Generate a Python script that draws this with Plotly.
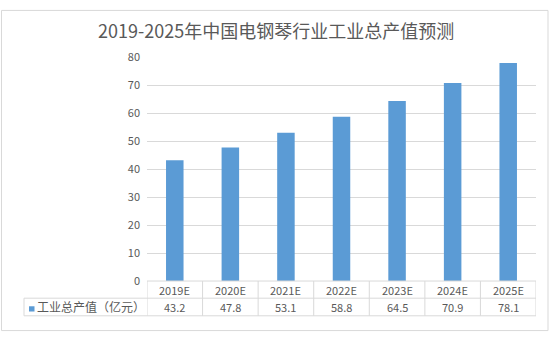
import plotly.graph_objects as go

# Forecast of gross industrial output value for the electric piano industry
years = ["2019E", "2020E", "2021E", "2022E", "2023E", "2024E", "2025E"]
output_value = [43.2, 47.8, 53.1, 58.8, 64.5, 70.9, 78.1]
series_name = "工业总产值（亿元）"
title_text = "2019-2025年中国电钢琴行业工业总产值预测"

W, H = 552, 339
BAR_COLOR = "#5B9BD5"
GRID = "#D9D9D9"
TEXT = "#595959"
FONT = "Noto Sans CJK SC, Microsoft YaHei, sans-serif"

# plot area in pixels
x0_px, x1_px = 147, 536
y_zero_px, y_top_px = 285.5, 51
row1_px, row2_px = 303.5, 322
legend_left_px = 24


def px_x(p):
    return p / W


def px_y(p):
    return 1 - p / H


fig = go.Figure()
fig.add_trace(go.Bar(
    x=years, y=output_value, marker=dict(color=BAR_COLOR, line=dict(width=0)),
    showlegend=False, hoverinfo="x+y",
))

shapes = []
annotations = []
n = len(years)
grid_line = dict(color=GRID, width=1)

# table grid: horizontal rules
shapes.append(dict(type="line", xref="paper", yref="paper",
                   x0=px_x(x0_px), x1=px_x(x1_px), y0=px_y(y_zero_px), y1=px_y(y_zero_px), line=grid_line))
for yy in (row1_px, row2_px):
    shapes.append(dict(type="line", xref="paper", yref="paper",
                       x0=px_x(legend_left_px), x1=px_x(x1_px), y0=px_y(yy), y1=px_y(yy), line=grid_line))
# table grid: column separators
for i in range(n + 1):
    shapes.append(dict(type="line", xref="x", yref="paper",
                       x0=i - 0.5, x1=i - 0.5, y0=px_y(y_zero_px), y1=px_y(row2_px), line=grid_line))
shapes.append(dict(type="line", xref="paper", yref="paper",
                   x0=px_x(legend_left_px), x1=px_x(legend_left_px), y0=px_y(row1_px), y1=px_y(row2_px), line=grid_line))
# legend key square
shapes.append(dict(type="rect", xref="paper", yref="paper",
                   x0=px_x(29), x1=px_x(34.5), y0=px_y(317.5), y1=px_y(312), fillcolor=BAR_COLOR, line=dict(width=0)))
# outer chart border
shapes.append(dict(type="rect", xref="paper", yref="paper",
                   x0=px_x(1.5), x1=px_x(548), y0=px_y(1.5), y1=px_y(337.5), line=dict(color="#D9D9D9", width=1)))

# table text: categories and values
for i, (yr, v) in enumerate(zip(years, output_value)):
    annotations.append(dict(x=yr, xref="x", yref="paper", y=px_y((y_zero_px + row1_px) / 2),
                            text=yr, showarrow=False, font=dict(size=11, color=TEXT, family=FONT),
                            xanchor="center", yanchor="middle"))
    annotations.append(dict(x=yr, xref="x", yref="paper", y=px_y((row1_px + row2_px) / 2),
                            text=f"{v:.1f}", showarrow=False, font=dict(size=11, color=TEXT, family=FONT),
                            xanchor="center", yanchor="middle"))
annotations.append(dict(x=px_x(35), xref="paper", yref="paper", y=px_y((row1_px + row2_px) / 2),
                        text=series_name, showarrow=False, font=dict(size=12, color=TEXT, family=FONT),
                        xanchor="left", yanchor="middle"))
# title
annotations.append(dict(x=0.5, xref="paper", yref="paper", y=px_y(22), text=title_text,
                        showarrow=False, font=dict(size=18, color=TEXT, family=FONT),
                        xanchor="center", yanchor="middle"))

fig.update_layout(
    width=W, height=H,
    margin=dict(l=0, r=0, t=0, b=0),
    paper_bgcolor="white", plot_bgcolor="white",
    bargap=0.685,
    xaxis=dict(domain=[px_x(x0_px), px_x(x1_px)], showticklabels=False, ticks="",
               showgrid=False, zeroline=False, showline=False, range=[-0.5, n - 0.5]),
    yaxis=dict(domain=[px_y(y_zero_px), px_y(y_top_px)], range=[0, 80], dtick=10,
               tickfont=dict(size=11, color=TEXT, family=FONT), ticks="",
               showgrid=True, gridcolor=GRID, gridwidth=1, zeroline=False, showline=False,
               ticklabelstandoff=6),
    shapes=shapes, annotations=annotations,
)

fig.write_html("out.html")
